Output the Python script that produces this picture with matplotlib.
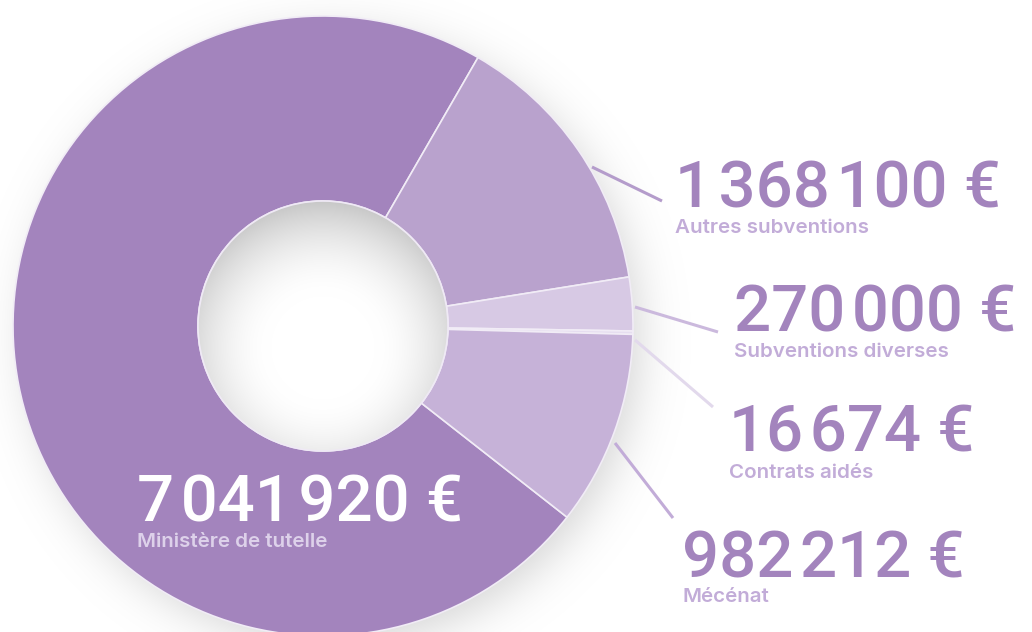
import numpy as np
import matplotlib
matplotlib.use("Agg")
import matplotlib.pyplot as plt
from matplotlib.patches import Circle

# Budget breakdown (euros)
categories = ["Ministère de tutelle", "Autres subventions", "Subventions diverses",
              "Contrats aidés", "Mécénat"]
values = [7041920, 1368100, 270000, 16674, 982212]
value_labels = ["7\u200a041\u200a920 €", "1\u200a368\u200a100 €", "270\u200a000 €",
                "16\u200a674 €", "982\u200a212 €"]
colors = ["#a384bd", "#b9a2cd", "#d7c9e4", "#e6def0", "#c6b2d8"]

W, H = 1032, 632
fig = plt.figure(figsize=(W / 100, H / 100), dpi=100)
ax = fig.add_axes([0, 0, 1, 1])
ax.set_xlim(0, W)
ax.set_ylim(0, H)
ax.set_aspect("equal")
ax.axis("off")

def fy(py):
    """Convert a top-down pixel row into the axes' bottom-up coordinate."""
    return H - py

cx, cy_px = 323, 326
R_out, R_in = 310, 125

# Soft drop shadow under the ring
yy, xx = np.mgrid[0:H, 0:W] + 0.5
d = np.hypot(xx - (cx + 10), yy - (cy_px + 12))
shadow = 0.17 / (1 + np.exp((d - (R_out - 4)) / 14.0))
shadow_img = np.ones((H, W, 4))
shadow_img[..., :3] = 0.0
shadow_img[..., 3] = shadow
ax.imshow(shadow_img, extent=(0, W, 0, H), origin="upper", zorder=0,
          interpolation="bilinear")

# Donut: clockwise, Ministère last so that the small slices sit on the right
fracs = np.array(values) / np.sum(values)
start = 60 + fracs[0] * 360
wedges, _ = ax.pie(values, colors=colors, center=(cx, fy(cy_px)), radius=R_out,
                   startangle=start, counterclock=False,
                   wedgeprops=dict(width=R_out - R_in, edgecolor="#f1ecf6",
                                   linewidth=1.2), frame=True)
for w in wedges:
    w.set_zorder(2)
ax.set_xlim(0, W)
ax.set_ylim(0, H)
ax.axis("off")

# Inner hole with a soft inner shade
hy0, hy1 = cy_px - R_in - 2, cy_px + R_in + 2
hx0, hx1 = cx - R_in - 2, cx + R_in + 2
hyy, hxx = np.mgrid[hy0:hy1, hx0:hx1] + 0.5
dh = np.hypot(hxx - cx, hyy - (cy_px + 22))
t = np.clip((dh / 147.0 - 0.35) / 0.65, 0, 1)
shade = 0.22 * t ** 1.8
hole = np.ones((hy1 - hy0, hx1 - hx0, 3))
hole[...] = (1 - shade)[..., None]
im = ax.imshow(hole, extent=(hx0, hx1, fy(hy1), fy(hy0)), origin="upper",
               zorder=3, interpolation="bilinear")
clip = Circle((cx, fy(cy_px)), R_in, transform=ax.transData)
im.set_clip_path(clip)
ax.add_patch(Circle((cx, fy(cy_px)), R_in, fill=False, edgecolor="#efe9f5",
                    linewidth=1.2, zorder=4))

num_font = ["Roboto", "DejaVu Sans"]
lab_font = ["Inter", "DejaVu Sans"]
num_size = 47
lab_size = 14.8

# (x, baseline of value, baseline of caption, value colour, caption colour)
layout = [
    (137, 522, 547, "#ffffff", "#ddd1ea"),
    (675, 207, 233, "#a384bd", "#c2acd8"),
    (734, 331, 357, "#a384bd", "#c2acd8"),
    (729, 452, 478, "#a384bd", "#c2acd8"),
    (682, 577, 602, "#a384bd", "#c2acd8"),
]
for (x, yb, yl, c1, c2), vl, cat in zip(layout, value_labels, categories):
    ax.text(x, fy(yb), vl, fontsize=num_size, family=num_font, weight="medium",
            color=c1, ha="left", va="baseline", zorder=6)
    ax.text(x, fy(yl), cat, fontsize=lab_size, family=lab_font, weight="semibold",
            color=c2, ha="left", va="baseline", zorder=6)

# Leader lines from the slices to their captions
leaders = [
    ((592, 167), (662, 201), "#b49ccb"),
    ((635, 307), (718, 332), "#cbb9dd"),
    ((635, 340), (713, 407), "#e2d9ec"),
    ((615, 443), (673, 518), "#c2acd8"),
]
for (x0, y0), (x1, y1), c in leaders:
    ax.plot([x0, x1], [fy(y0), fy(y1)], color=c, linewidth=2.2,
            solid_capstyle="butt", zorder=5)

fig.savefig("out.png", dpi=100, facecolor="white")
